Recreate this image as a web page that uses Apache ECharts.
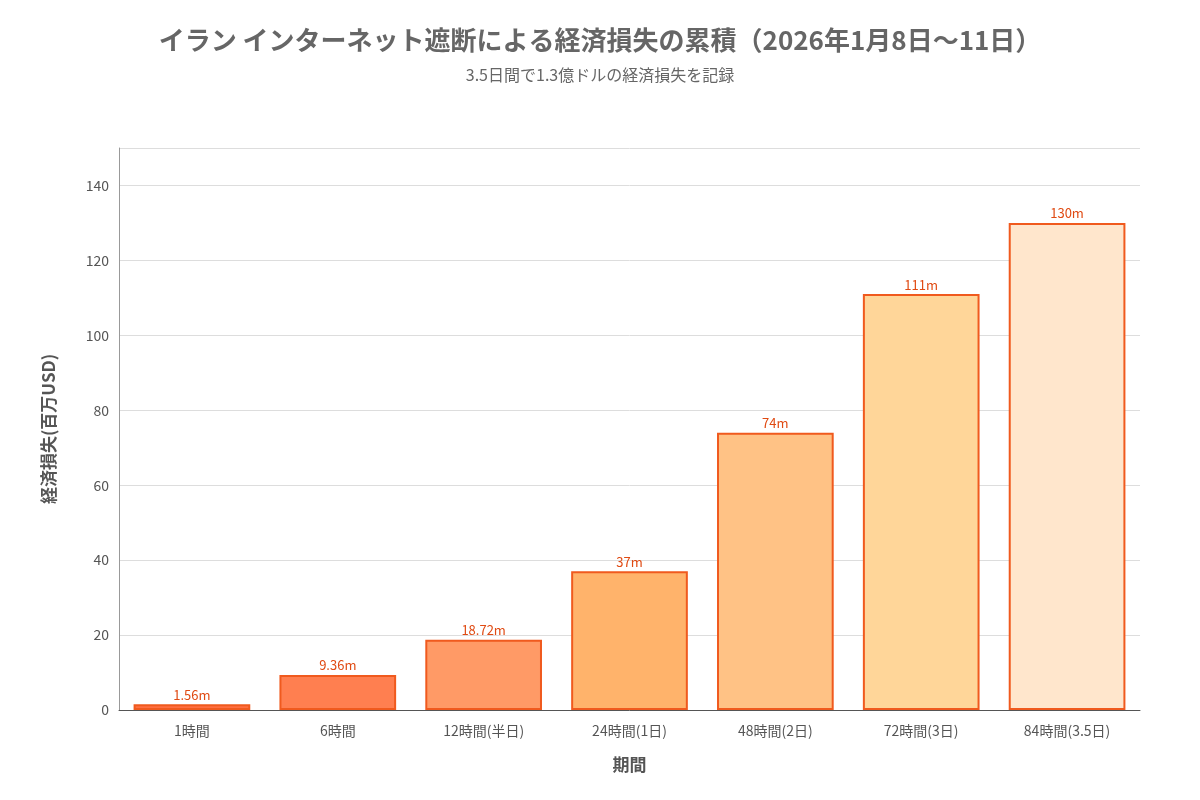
<!DOCTYPE html>
<html><head><meta charset="utf-8">
<script src="https://cdn.jsdelivr.net/npm/echarts@6/dist/echarts.min.js"></script>
<style>html,body{margin:0;background:#fff}#c{width:1200px;height:800px}</style>
</head><body><div id="c"></div>
<script>
const categories = ["1時間","6時間","12時間(半日)","24時間(1日)","48時間(2日)","72時間(3日)","84時間(3.5日)"];
const values = [1.56, 9.36, 18.72, 37, 74, 111, 130];
const labels = ["1.56m","9.36m","18.72m","37m","74m","111m","130m"];
const colors = ["#ff6f40","#ff7f50","#ff9a66","#ffb36b","#ffc285","#ffd699","#ffe6cc"];
const font = '"Noto Sans CJK JP","Noto Sans",sans-serif';
const chart = echarts.init(document.getElementById('c'));
chart.setOption({
  textStyle:{fontFamily:font},
  title:{text:"イラン インターネット遮断による経済損失の累積（2026年1月8日〜11日）",
    subtext:"3.5日間で1.3億ドルの経済損失を記録",left:'center',top:22,itemGap:14,
    textStyle:{fontSize:26,fontWeight:'bold',color:'#666',fontFamily:font},
    subtextStyle:{fontSize:16,color:'#666',fontFamily:font}},
  grid:{left:119,right:60,top:148,bottom:90},
  xAxis:{type:'category',data:categories,name:'期間',nameLocation:'middle',nameGap:46,
    nameTextStyle:{fontSize:17,fontWeight:'bold',color:'#555'},
    axisLine:{lineStyle:{color:'#555'}},axisTick:{show:false},
    axisLabel:{fontSize:14,color:'#555',margin:14}},
  yAxis:{type:'value',min:0,max:150,interval:20,name:'経済損失(百万USD)',nameLocation:'middle',nameGap:62,
    nameTextStyle:{fontSize:17,fontWeight:'bold',color:'#555'},
    axisLine:{show:true,lineStyle:{color:'#999'}},axisTick:{show:false},
    axisLabel:{fontSize:14,color:'#555',margin:10,showMaxLabel:false},
    splitLine:{lineStyle:{color:'#ddd'}}},
  series:[{type:'bar',barWidth:'80%',
    data:values.map((v,i)=>({value:v,itemStyle:{color:colors[i]}})),
    itemStyle:{borderColor:'#f05a1e',borderWidth:2},
    label:{show:true,position:'top',distance:3,fontSize:13,color:'#e04a12',
      formatter:p=>labels[p.dataIndex]}}]
});
</script></body></html>
